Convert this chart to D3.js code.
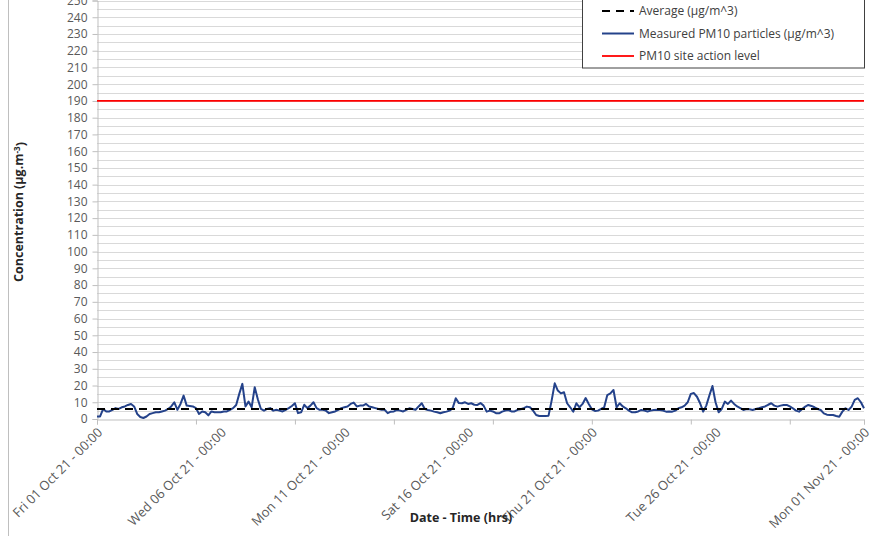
<!DOCTYPE html>
<html>
<head>
<meta charset="utf-8">
<script src="https://cdn.jsdelivr.net/npm/d3@7"></script>
<style>
  html, body { margin: 0; padding: 0; background: #fff; }
  svg { display: block; font-family: "Open Sans", "Noto Sans", sans-serif; }
</style>
</head>
<body>
<div id="chart"></div>
<script>
// PM10 readings, one value every 3 hours from 01 Oct 21 00:00 to 01 Nov 21 00:00
const START = "2021-10-01T00:00:00";
const STEP_HOURS = 3;
const pm10 = [
  1.5, 1.5, 6, 4.5, 4.5, 5.5, 6.5, 6, 7, 7.5, 8.4, 9, 7.5, 3, 1.2, 0.6,
  1.5, 3, 3.5, 4, 4, 4.5, 5, 6, 7.5, 10, 5.5, 9, 14, 8, 7.8, 7.5,
  6.5, 3, 4.5, 4, 2.2, 4.5, 4, 4, 4, 4.5, 4.5, 5.5, 6.5, 8.4, 15, 21,
  7.5, 10.4, 7, 19, 11.8, 6, 5, 6, 6.5, 5, 5.5, 5, 4.5, 5.5, 6.5, 7.8,
  9.4, 3.5, 4, 8.5, 6.5, 8, 10, 6.5, 5.5, 5.5, 5, 3.5, 4, 4.5, 5.5, 6.5,
  7, 7.5, 9, 9.8, 7.5, 8, 8, 9, 7.5, 7, 6.5, 6, 5.5, 5.5, 3.5, 4.4,
  4.5, 5.4, 5, 4.5, 5.5, 6.4, 6, 5.5, 7.5, 9.4, 6, 5.4, 5, 4.4, 4, 3.4,
  4, 4.4, 5, 6.5, 12.4, 9.5, 9.4, 10, 9, 9.4, 8.5, 8.4, 9.5, 8, 4.4, 5,
  4.5, 3.5, 3.4, 4.4, 5, 5.4, 4.5, 4.5, 5.5, 5.8, 6.5, 7.4, 7, 5, 2.4, 1.8,
  1.8, 1.8, 2, 11, 21.3, 17, 15.3, 16, 9.4, 7, 4.4, 9.4, 7, 9, 12.5, 9,
  5.8, 4.8, 5, 6, 7, 14.3, 15.3, 17.3, 7, 9.4, 7.5, 6.4, 5, 4, 4, 4.5,
  5.4, 5, 4.5, 5, 5.4, 5.5, 5.4, 5, 4.4, 4.5, 4.4, 5, 6.4, 7, 8, 10,
  15, 15.5, 13.3, 9.4, 4.4, 8, 14, 19.7, 10, 4, 6, 10.4, 9, 11, 9, 7.5,
  6.5, 5.4, 6, 5.8, 5.4, 6, 6.4, 7, 7.5, 8.5, 9.4, 8, 7.4, 8, 8.4, 8.4,
  7.5, 6.4, 5, 4.4, 6, 7.4, 8.4, 7.8, 7, 6, 5.4, 3.4, 2.6, 2.4, 2.4, 1.8,
  1.4, 4.4, 6.4, 5.4, 7.4, 11.4, 12.4, 10, 6.4
];
const AVERAGE = 6;
const ACTION_LEVEL = 190;

const labelDates = ["2021-10-01", "2021-10-06", "2021-10-11", "2021-10-16",
                    "2021-10-21", "2021-10-26", "2021-11-01"];
const legendItems = ["Average (µg/m^3)", "Measured PM10 particles (µg/m^3)", "PM10 site action level"];

const W = 874, H = 536;
const plot = { left: 97, right: 864, top: 0.5, bottom: 419 };

const parse = d3.timeParse("%Y-%m-%dT%H:%M:%S");
const t0 = parse(START);
const data = pm10.map((v, i) => ({ date: d3.timeHour.offset(t0, i * STEP_HOURS), value: v }));

const svg = d3.select("#chart").append("svg").attr("width", W).attr("height", H);

const x = d3.scaleTime()
  .domain([t0, data[data.length - 1].date])
  .range([plot.left, plot.right]);
const y = d3.scaleLinear().domain([0, 250]).range([plot.bottom, plot.top]);

// chart area edge
svg.append("line")
  .attr("x1", 8.5).attr("x2", 8.5).attr("y1", 0).attr("y2", H)
  .attr("stroke", "#bfbfbf");

// gridlines every 5
svg.append("g")
  .selectAll("line")
  .data(d3.range(5, 251, 5))
  .join("line")
  .attr("x1", plot.left).attr("x2", plot.right)
  .attr("y1", d => Math.round(y(d)) + 0.5).attr("y2", d => Math.round(y(d)) + 0.5)
  .attr("stroke", "#d9d9d9");

// y axis
const yAxis = svg.append("g")
  .attr("transform", `translate(${plot.left + 0.5},0)`)
  .call(d3.axisLeft(y).tickValues(d3.range(0, 251, 10)).tickSize(5).tickPadding(5));
yAxis.select(".domain").attr("stroke", "#bfbfbf");
yAxis.selectAll(".tick line").attr("stroke", "#bfbfbf");
yAxis.selectAll("text").attr("fill", "#595959").style("font-size", "12px")
  .style("font-family", "'Open Sans', sans-serif");

// x axis: tick marks every 4 days, labels every 5 days
const xAxis = svg.append("g")
  .attr("transform", `translate(0,${plot.bottom + 0.5})`)
  .call(d3.axisBottom(x).ticks(d3.timeDay.every(4)).tickSize(5).tickFormat(""));
xAxis.select(".domain").attr("stroke", "#bfbfbf");
xAxis.selectAll(".tick line").attr("stroke", "#bfbfbf");

const fmt = d3.timeFormat("%a %d %b %y - %H:%M");
svg.append("g")
  .selectAll("text")
  .data(labelDates.map(d => d3.timeParse("%Y-%m-%d")(d)))
  .join("text")
  .attr("transform", d => `translate(${x(d) + 3},${plot.bottom + 11}) rotate(-45)`)
  .attr("text-anchor", "end")
  .attr("dy", "0.35em")
  .attr("fill", "#595959")
  .style("font-size", "13px")
  .text(d => fmt(d));

// series
const line = d3.line().x(d => x(d.date)).y(d => y(d.value));

svg.append("line")
  .attr("x1", plot.left).attr("x2", plot.right)
  .attr("y1", y(ACTION_LEVEL)).attr("y2", y(ACTION_LEVEL))
  .attr("stroke", "#ff0000").attr("stroke-width", 1.8);

svg.append("path")
  .datum(data)
  .attr("fill", "none")
  .attr("stroke", "#24428a")
  .attr("stroke-width", 2)
  .attr("stroke-linejoin", "round")
  .attr("d", line);

svg.append("line")
  .attr("x1", plot.left).attr("x2", plot.right)
  .attr("y1", y(AVERAGE)).attr("y2", y(AVERAGE))
  .attr("stroke", "#000").attr("stroke-width", 2)
  .attr("stroke-dasharray", "8,6");

// axis titles
svg.append("text")
  .attr("x", 461).attr("y", 522)
  .attr("text-anchor", "middle")
  .attr("fill", "#262626")
  .style("font-size", "12.5px").style("font-weight", "bold")
  .text("Date - Time (hrs)");

const yt = svg.append("text")
  .attr("transform", "translate(23,212) rotate(-90)")
  .attr("text-anchor", "middle")
  .attr("fill", "#262626")
  .style("font-size", "12.5px").style("font-weight", "bold");
yt.append("tspan").text("Concentration (µg.m");
yt.append("tspan").attr("dy", "-0.4em").style("font-size", "8px").text("-3");
yt.append("tspan").attr("dy", "0.4em").text(")");

// legend
const lg = svg.append("g");
lg.append("rect")
  .attr("x", 582.5).attr("y", -5).attr("width", 282).attr("height", 73)
  .attr("fill", "#fff").attr("stroke", "#404040");
const styles = [
  { stroke: "#000", width: 2, dash: "8,6" },
  { stroke: "#24428a", width: 2, dash: null },
  { stroke: "#ff0000", width: 1.8, dash: null }
];
legendItems.forEach((name, i) => {
  const cy = 11 + i * 22.5;
  lg.append("line")
    .attr("x1", 602).attr("x2", 634).attr("y1", cy).attr("y2", cy)
    .attr("stroke", styles[i].stroke).attr("stroke-width", styles[i].width)
    .attr("stroke-dasharray", styles[i].dash);
  lg.append("text")
    .attr("x", 639).attr("y", cy).attr("dy", "0.35em")
    .attr("fill", "#404040")
    .style("font-size", "12px")
    .text(name);
});
</script>
</body>
</html>
